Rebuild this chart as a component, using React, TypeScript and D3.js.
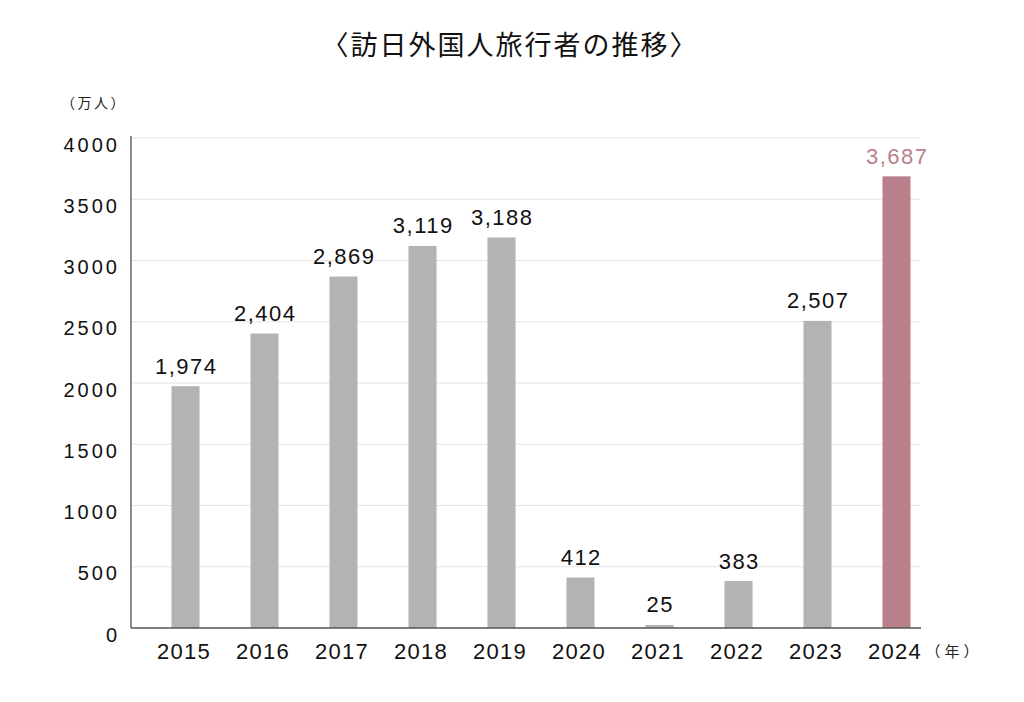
import React from "react";
import * as d3 from "d3";

const years = ["2015", "2016", "2017", "2018", "2019", "2020", "2021", "2022", "2023", "2024"];
const visitors = [1974, 2404, 2869, 3119, 3188, 412, 25, 383, 2507, 3687];
const yTicks = [0, 500, 1000, 1500, 2000, 2500, 3000, 3500, 4000];
const title = "〈訪日外国人旅行者の推移〉";
const unitY = "（万人）";
const unitX = "（年）";

const W = 1024;
const H = 702;
const axisLeft = 131;
const axisRight = 921;
const y0 = 628;
const yTop = 138;
const highlight = "#b97f8a";
const gray = "#b3b3b3";
const latin = "'Liberation Sans', Arial, 'Noto Sans CJK JP', sans-serif";
const cjk = "'Noto Sans CJK JP', 'Liberation Sans', sans-serif";

export default function App() {
  const x = d3.scaleBand<string>().domain(years).range([146, 936]).paddingInner(0.645).paddingOuter(0.3225);
  const y = d3.scaleLinear().domain([0, 4000]).range([y0, yTop]);
  const fmt = d3.format(",");
  return (
    <svg width={W} height={H} style={{ position: "absolute", left: 0, top: 0, background: "#fff" }}>
      <rect x={0} y={0} width={W} height={H} fill="#fff" />
      <text x={510} y={55} textAnchor="middle" fontFamily={cjk} fontSize={27} letterSpacing={2} fill="#111">{title}</text>
      <text x={94} y={108} textAnchor="middle" fontFamily={cjk} fontSize={14} letterSpacing={2.5} fill="#222">{unitY}</text>
      {yTicks.map((t) => (
        <g key={t}>
          {t > 0 && <line x1={axisLeft} x2={axisRight - 1} y1={y(t)} y2={y(t)} stroke="#e3e3e3" strokeWidth={1} />}
          <text x={120} y={y(t) + 13.5} textAnchor="end" fontFamily={latin} fontSize={20} letterSpacing={3} fill="#111">{t}</text>
        </g>
      ))}
      {years.map((yr, i) => {
        const v = visitors[i];
        const isLast = i === years.length - 1;
        const bx = x(yr)!;
        const bw = x.bandwidth();
        return (
          <g key={yr}>
            <rect x={bx} y={y(v)} width={bw} height={y0 - y(v)} fill={isLast ? highlight : gray} />
            <text x={bx + bw / 2 + 0.75} y={y(v) - 12.5} textAnchor="middle" fontFamily={latin} fontSize={22} letterSpacing={1.5} fill={isLast ? highlight : "#111"}>{fmt(v)}</text>
            <text x={bx + bw / 2 - 1.5} y={659} textAnchor="middle" fontFamily={latin} fontSize={22} letterSpacing={1.3} fill="#111">{yr}</text>
          </g>
        );
      })}
      <line x1={axisLeft} x2={axisLeft} y1={yTop - 2} y2={y0} stroke="#666" strokeWidth={1.5} />
      <line x1={axisLeft} x2={axisRight} y1={y0} y2={y0} stroke="#555" strokeWidth={1.5} />
      <text x={954} y={657} textAnchor="middle" fontFamily={cjk} fontSize={15} letterSpacing={4} fill="#222">{unitX}</text>
    </svg>
  );
}
